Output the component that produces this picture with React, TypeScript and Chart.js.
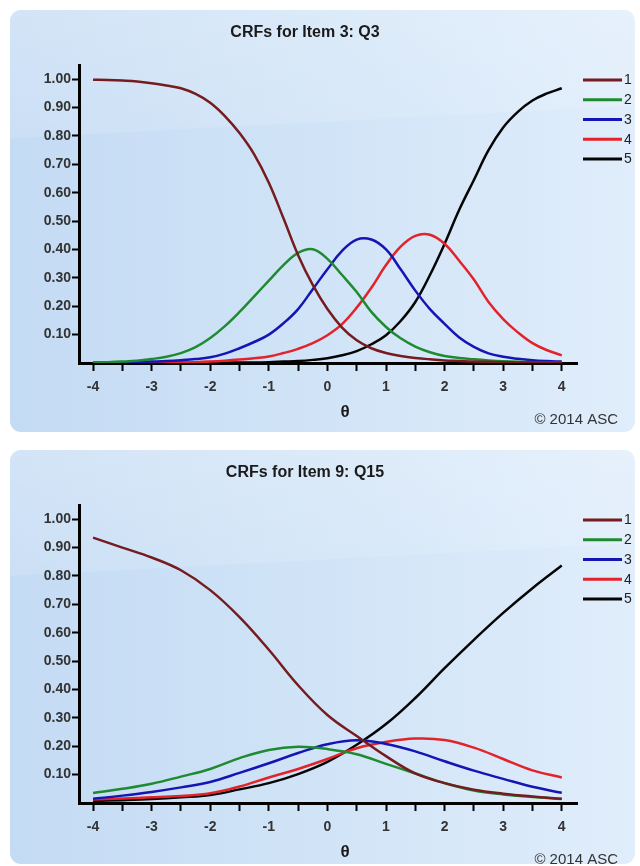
import React, { useEffect, useRef } from 'react';
import { Chart, registerables } from 'chart.js';

Chart.register(...registerables);

// ---------- data ----------
const categoryLabels = ['1', '2', '3', '4', '5'];
const categoryColors = ['#761b1f', '#1f8a30', '#1515b5', '#e3232a', '#050505'];

const xTickValues = [-4, -3.5, -3, -2.5, -2, -1.5, -1, -0.5, 0, 0.5, 1, 1.5, 2, 2.5, 3, 3.5, 4];
const xTickLabels = ['-4', '', '-3', '', '-2', '', '-1', '', '0', '', '1', '', '2', '', '3', '', '4'];
const yTickValues = [0.1, 0.2, 0.3, 0.4, 0.5, 0.6, 0.7, 0.8, 0.9, 1.0];
const yTickLabels = ['0.10', '0.20', '0.30', '0.40', '0.50', '0.60', '0.70', '0.80', '0.90', '1.00'];

// Item 3: Q3
const item3Title = 'CRFs for Item 3: Q3';
const item3Theta = [-4, -3.75, -3.5, -3.25, -3, -2.75, -2.5, -2.25, -2, -1.75, -1.5, -1.25, -1, -0.75, -0.5, -0.25, 0, 0.25, 0.5, 0.75, 1, 1.25, 1.5, 1.75, 2, 2.25, 2.5, 2.75, 3, 3.25, 3.5, 3.75, 4];
const item3Cat1 = [0.998, 0.997, 0.995, 0.992, 0.986, 0.978, 0.968, 0.948, 0.917, 0.87, 0.81, 0.735, 0.635, 0.51, 0.38, 0.275, 0.19, 0.125, 0.08, 0.052, 0.035, 0.025, 0.018, 0.013, 0.009, 0.007, 0.005, 0.004, 0.003, 0.002, 0.002, 0.001, 0.001];
const item3Cat2 = [0.002, 0.003, 0.005, 0.008, 0.014, 0.022, 0.035, 0.056, 0.088, 0.13, 0.18, 0.235, 0.29, 0.345, 0.388, 0.401, 0.367, 0.31, 0.25, 0.18, 0.127, 0.087, 0.058, 0.038, 0.025, 0.018, 0.013, 0.009, 0.006, 0.004, 0.003, 0.002, 0.001];
const item3Cat3 = [0.001, 0.001, 0.002, 0.003, 0.005, 0.007, 0.01, 0.014, 0.02, 0.033, 0.052, 0.074, 0.1, 0.14, 0.19, 0.26, 0.33, 0.395, 0.435, 0.435, 0.4, 0.33, 0.255, 0.19, 0.138, 0.09, 0.057, 0.034, 0.022, 0.015, 0.01, 0.007, 0.005];
const item3Cat4 = [0, 0, 0.001, 0.001, 0.001, 0.002, 0.002, 0.003, 0.005, 0.008, 0.012, 0.017, 0.023, 0.035, 0.05, 0.07, 0.098, 0.137, 0.195, 0.265, 0.345, 0.41, 0.448, 0.452, 0.42, 0.36, 0.294, 0.215, 0.155, 0.108, 0.07, 0.045, 0.027];
const item3Cat5 = [0, 0, 0, 0, 0, 0, 0.001, 0.001, 0.001, 0.001, 0.002, 0.002, 0.003, 0.005, 0.007, 0.011, 0.017, 0.027, 0.042, 0.066, 0.098, 0.148, 0.215, 0.31, 0.42, 0.54, 0.645, 0.75, 0.83, 0.885, 0.925, 0.95, 0.968];

// Item 9: Q15
const item9Title = 'CRFs for Item 9: Q15';
const item9Theta = [-4, -3.5, -3, -2.5, -2, -1.5, -1, -0.5, 0, 0.5, 1, 1.5, 2, 2.5, 3, 3.5, 4];
const item9Cat1 = [0.935, 0.9, 0.865, 0.82, 0.75, 0.655, 0.54, 0.415, 0.31, 0.236, 0.165, 0.104, 0.07, 0.047, 0.033, 0.023, 0.015];
const item9Cat2 = [0.035, 0.05, 0.068, 0.093, 0.12, 0.158, 0.187, 0.198, 0.19, 0.172, 0.138, 0.104, 0.07, 0.044, 0.03, 0.021, 0.014];
const item9Cat3 = [0.015, 0.026, 0.039, 0.055, 0.074, 0.106, 0.14, 0.176, 0.207, 0.221, 0.208, 0.182, 0.147, 0.114, 0.085, 0.057, 0.036];
const item9Cat4 = [0.012, 0.016, 0.02, 0.025, 0.034, 0.058, 0.09, 0.12, 0.155, 0.193, 0.215, 0.227, 0.222, 0.195, 0.155, 0.115, 0.09];
const item9Cat5 = [0.007, 0.01, 0.014, 0.02, 0.028, 0.048, 0.07, 0.102, 0.145, 0.205, 0.278, 0.37, 0.475, 0.575, 0.67, 0.757, 0.837];

const xAxisTitle = 'θ';
const creditText = '© 2014 ASC';

// ---------- drawing ----------
const FONT = '"Liberation Sans", Arial, sans-serif';

const panelDecor = {
  id: 'panelDecor',
  afterDraw(chart: any, _args: any, opts: any) {
    const ctx = chart.ctx;
    ctx.save();
    ctx.textBaseline = 'middle';
    ctx.fillStyle = '#1a1a1a';
    ctx.font = `bold 16px ${FONT}`;
    ctx.textAlign = 'center';
    ctx.fillText(opts.title, 295, 23);
    ctx.font = `bold 17px ${FONT}`;
    ctx.fillText(opts.xTitle, 335, 402);
    ctx.font = `15px ${FONT}`;
    ctx.fillStyle = '#333';
    ctx.textAlign = 'right';
    ctx.fillText(opts.credit, 608, 410);
    chart.data.datasets.forEach((ds: any, i: number) => {
      const y = 70 + i * 19.75;
      ctx.strokeStyle = ds.borderColor;
      ctx.lineWidth = 3;
      ctx.beginPath();
      ctx.moveTo(573, y);
      ctx.lineTo(612, y);
      ctx.stroke();
      ctx.fillStyle = '#222';
      ctx.font = `14px ${FONT}`;
      ctx.textAlign = 'left';
      ctx.fillText(ds.label, 614, y + 0.5);
    });
    ctx.restore();
  },
};

const tickFont = { family: FONT, size: 14, weight: 'bold' as const };

function CrfPanel(props: { top: number; height: number; title: string; theta: number[]; series: number[][] }) {
  const { top, height, title, theta, series } = props;
  const ref = useRef<HTMLCanvasElement | null>(null);
  useEffect(() => {
    if (!ref.current) return;
    const chart = new Chart(ref.current, {
      type: 'line',
      data: {
        datasets: series.map((s, i) => ({
          label: categoryLabels[i],
          data: theta.map((t, j) => ({ x: t, y: s[j] })),
          borderColor: categoryColors[i],
          backgroundColor: categoryColors[i],
          borderWidth: 2.5,
          pointRadius: 0,
          fill: false,
          tension: 0.4,
        })),
      },
      options: {
        responsive: false,
        animation: false,
        devicePixelRatio: 1,
        layout: { padding: { top: 55, left: 29, right: 58, bottom: height - 353 - 40 } },
        plugins: {
          legend: { display: false },
          tooltip: { enabled: false },
          // @ts-ignore
          panelDecor: { title, xTitle: xAxisTitle, credit: creditText },
        },
        scales: {
          x: {
            type: 'linear',
            min: -4.24,
            max: 4.26,
            afterFit: (s: any) => { s.height = 40; },
            afterBuildTicks: (s: any) => { s.ticks = xTickValues.map((v) => ({ value: v })); },
            grid: { display: true, drawOnChartArea: false, drawTicks: true, tickLength: 8, tickWidth: 2, tickColor: '#000' },
            border: { display: true, color: '#000', width: 3 },
            ticks: {
              autoSkip: false,
              maxRotation: 0,
              padding: 8,
              color: '#333',
              font: tickFont,
              callback: (_v: any, i: number) => xTickLabels[i] ?? '',
            },
          },
          y: {
            type: 'linear',
            min: 0,
            max: 1.05,
            afterFit: (s: any) => { s.width = 40; },
            afterBuildTicks: (s: any) => { s.ticks = yTickValues.map((v) => ({ value: v })); },
            grid: { display: true, drawOnChartArea: false, drawTicks: true, tickLength: 7, tickWidth: 2, tickColor: '#000' },
            border: { display: true, color: '#000', width: 3 },
            ticks: {
              autoSkip: false,
              padding: 1,
              color: '#333',
              font: tickFont,
              callback: (_v: any, i: number) => yTickLabels[i] ?? '',
            },
          },
        },
      },
      plugins: [panelDecor as any],
    });
    return () => chart.destroy();
  }, []);

  return (
    <div
      style={{
        position: 'absolute',
        left: 10,
        top,
        width: 625,
        height,
        borderRadius: 11,
        overflow: 'hidden',
        background:
          'linear-gradient(177deg, rgba(255,255,255,0.25) 0%, rgba(255,255,255,0.12) 28%, rgba(255,255,255,0) 28.4%, rgba(255,255,255,0) 100%), linear-gradient(90deg, #c4dbf4 0%, #d1e4f7 50%, #e0edfb 100%)',
      }}
    >
      <canvas ref={ref} width={625} height={height} style={{ display: 'block' }} />
    </div>
  );
}

export default function App() {
  return (
    <div style={{ position: 'fixed', left: 0, top: 0, width: 640, height: 866, overflow: 'hidden', background: '#ffffff' }}>
      <CrfPanel top={10} height={422} title={item3Title} theta={item3Theta} series={[item3Cat1, item3Cat2, item3Cat3, item3Cat4, item3Cat5]} />
      <CrfPanel top={450} height={414} title={item9Title} theta={item9Theta} series={[item9Cat1, item9Cat2, item9Cat3, item9Cat4, item9Cat5]} />
    </div>
  );
}
